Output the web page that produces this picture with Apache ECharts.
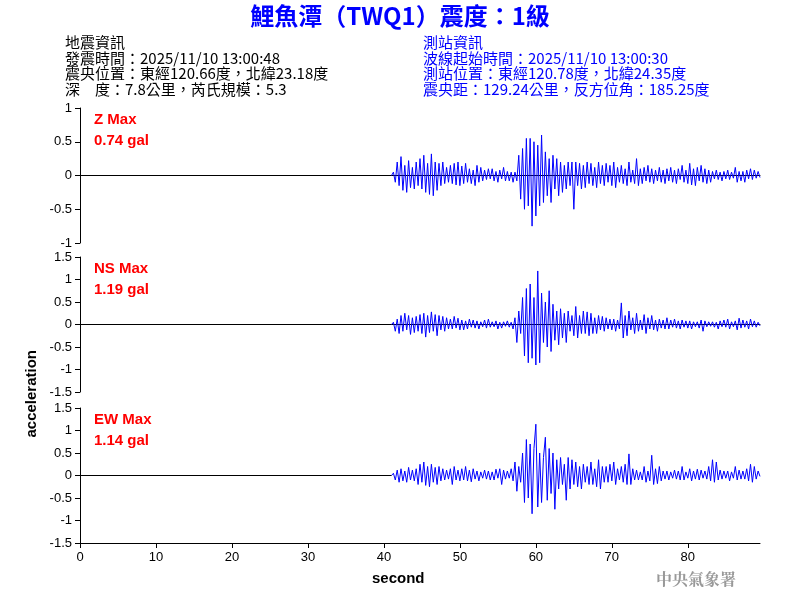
<!DOCTYPE html>
<html>
<head>
<meta charset="utf-8">
<script src="https://cdn.jsdelivr.net/npm/echarts@6/dist/echarts.min.js"></script>
<style>body{margin:0;background:#fff}#chart{width:800px;height:600px}</style>
</head>
<body>
<div id="chart"></div>
<script>
// samples every 0.25 s starting at 41.25 s (flat before 41 s)
var startSec = 41.25;
var stepSec = 0.25;

var zVals = [
  0.05,-0.1,0.2,-0.15, 0.28,-0.22,0.15,-0.25, 0.22,-0.18,0.12,-0.2, 0.2,-0.15,0.25,-0.2,
  0.3,-0.25,0.18,-0.28, 0.32,-0.3,0.2,-0.22, 0.18,-0.15,0.2,-0.12, 0.12,-0.1,0.15,-0.12,
  0.18,-0.14,0.2,-0.15, 0.14,-0.12,0.18,-0.1, 0.1,-0.12,0.08,-0.15, 0.15,-0.1,0.12,-0.08,
  0.08,-0.06,0.1,-0.05, 0.1,-0.08,0.06,-0.1, 0.08,-0.05,0.12,-0.08, 0.06,-0.08,0.05,-0.1,
  0.05,-0.08,0.3,-0.35, 0.4,-0.5,0.55,-0.45, 0.55,-0.75,0.5,-0.6, 0.45,-0.45,0.6,-0.4,
  0.35,-0.3,0.25,-0.4, 0.3,-0.2,0.25,-0.3, 0.2,-0.25,0.15,-0.2, 0.2,-0.15,0.2,-0.5,
  0.2,-0.15,0.18,-0.2, 0.15,-0.18,0.2,-0.12, 0.18,-0.15,0.12,-0.18, 0.2,-0.12,0.15,-0.15,
  0.18,-0.1,0.15,-0.15, 0.2,-0.18,0.12,-0.1, 0.15,-0.12,0.1,-0.15, 0.2,-0.1,0.08,-0.12,
  0.25,-0.15,0.1,-0.12, 0.12,-0.08,0.15,-0.1, 0.1,-0.12,0.08,-0.08, 0.12,-0.1,0.08,-0.12,
  0.1,-0.08,0.12,-0.1, 0.08,-0.12,0.1,-0.06, 0.15,-0.1,0.08,-0.12, 0.18,-0.14,0.1,-0.15,
  0.12,-0.08,0.15,-0.1, 0.1,-0.12,0.08,-0.1, 0.06,-0.05,0.08,-0.06, 0.05,-0.08,0.06,-0.05,
  0.08,-0.06,0.05,-0.04, 0.12,-0.1,0.06,-0.08, 0.06,-0.1,0.08,-0.05, 0.1,-0.06,0.08,-0.04,
  0.06,-0.03
];

var nsVals = [
  0.05,-0.15,0.12,-0.2, 0.2,-0.15,0.25,-0.12, 0.2,-0.22,0.15,-0.18, 0.18,-0.15,0.22,-0.2,
  0.25,-0.28,0.2,-0.18, 0.28,-0.15,0.22,-0.25, 0.2,-0.12,0.18,-0.15, 0.15,-0.1,0.12,-0.1,
  0.18,-0.08,0.14,-0.12, 0.1,-0.12,0.08,-0.1, 0.12,-0.06,0.1,-0.08, 0.08,-0.1,0.06,-0.05,
  0.1,-0.08,0.12,-0.06, 0.06,-0.05,0.08,-0.1, 0.05,-0.08,0.06,-0.04, 0.08,-0.06,0.05,-0.1,
  0.15,-0.4,0.3,-0.2, 0.6,-0.7,0.8,-0.85, 0.9,-0.75,0.6,-0.9, 1.19,-0.85,0.7,-0.4,
  0.5,-0.5,0.75,-0.6, 0.45,-0.35,0.3,-0.45, 0.35,-0.3,0.25,-0.4, 0.3,-0.15,0.2,-0.25,
  0.4,-0.3,0.2,-0.2, 0.3,-0.2,0.28,-0.25, 0.25,-0.2,0.15,-0.2, 0.2,-0.12,0.18,-0.15,
  0.15,-0.1,0.12,-0.12, 0.12,-0.15,0.1,-0.1, 0.48,-0.3,0.2,-0.25, 0.3,-0.12,0.15,-0.2,
  0.25,-0.15,0.1,-0.12, 0.22,-0.2,0.15,-0.1, 0.2,-0.12,0.1,-0.15, 0.12,-0.08,0.1,-0.1,
  0.15,-0.1,0.1,-0.06, 0.12,-0.08,0.08,-0.1, 0.1,-0.06,0.08,-0.08, 0.08,-0.1,0.06,-0.05,
  0.06,-0.08,0.1,-0.15, 0.08,-0.05,0.06,-0.04, 0.06,-0.06,0.05,-0.1, 0.08,-0.05,0.1,-0.06,
  0.12,-0.1,0.06,-0.05, 0.08,-0.12,0.14,-0.08, 0.1,-0.06,0.08,-0.1, 0.12,-0.05,0.08,-0.06,
  0.05,-0.03
];

var ewVals = [
  0.05,-0.1,0.12,-0.15, 0.15,-0.12,0.1,-0.15, 0.18,-0.1,0.12,-0.12, 0.15,-0.2,0.25,-0.15,
  0.3,-0.22,0.2,-0.25, 0.25,-0.15,0.18,-0.2, 0.2,-0.12,0.15,-0.1, 0.12,-0.08,0.15,-0.2,
  0.2,-0.1,0.12,-0.12, 0.15,-0.1,0.2,-0.12, 0.12,-0.14,0.15,-0.08, 0.1,-0.12,0.08,-0.06,
  0.12,-0.08,0.1,-0.1, 0.08,-0.1,0.14,-0.06, 0.15,-0.2,0.12,-0.08, 0.1,-0.06,0.15,-0.12,
  0.3,-0.35,0.2,-0.15, 0.5,-0.6,0.8,-0.5, 0.7,-0.85,0.6,1.14, -0.7,0.5,-0.6,0.4,
  0.85,-0.55,0.6,-0.4, 0.5,-0.75,0.35,-0.3, 0.4,-0.2,0.25,-0.55, 0.4,-0.3,0.35,-0.2,
  0.3,-0.25,0.2,-0.3, 0.25,-0.15,0.2,-0.2, 0.3,-0.2,0.15,-0.25, 0.35,-0.3,0.2,-0.15,
  0.2,-0.15,0.25,-0.12, 0.3,-0.2,0.15,-0.1, 0.2,-0.15,0.25,-0.2, 0.48,-0.2,0.15,-0.1,
  0.12,-0.1,0.08,-0.1, 0.2,-0.15,0.1,-0.12, 0.45,-0.2,0.15,-0.18, 0.2,-0.12,0.1,-0.08,
  0.1,-0.1,0.08,-0.06, 0.12,-0.08,0.1,-0.1, 0.2,-0.1,0.08,-0.06, 0.15,-0.12,0.1,-0.08,
  0.14,-0.1,0.12,-0.06, 0.1,-0.08,0.2,-0.12, 0.35,-0.15,0.3,-0.1, 0.12,-0.08,0.1,-0.06,
  0.1,-0.12,0.08,-0.06, 0.2,-0.1,0.12,-0.08, 0.1,-0.08,0.15,-0.12, 0.25,-0.15,0.2,-0.08,
  0.1,-0.02
];

var xTicks = [0, 10, 20, 30, 40, 50, 60, 70, 80];
var maxLabels = [['Z Max', '0.74 gal'], ['NS Max', '1.19 gal'], ['EW Max', '1.14 gal']];
var leftInfo = ['地震資訊', '發震時間：2025/11/10 13:00:48', '震央位置：東經120.66度，北緯23.18度', '深　度：7.8公里，芮氏規模：5.3'];
var rightInfo = ['測站資訊', '波線起始時間：2025/11/10 13:00:30', '測站位置：東經120.78度，北緯24.35度', '震央距：129.24公里，反方位角：185.25度'];

function toPairs(vals) {
  var out = [[41, 0]];
  for (var i = 0; i < vals.length; i++) out.push([startSec + i * stepSec, vals[i]]);
  return out;
}

var chart = echarts.init(document.getElementById('chart'));
var tops = [108, 257, 408];
var ranges = [[-1, 1], [-1.5, 1.5], [-1.5, 1.5]];
var traces = [zVals, nsVals, ewVals];
var grids = [], xAxes = [], yAxes = [], series = [], graphics = [];

for (var k = 0; k < 3; k++) {
  grids.push({left: 80, width: 680, top: tops[k], height: 135});
  var bottom = k === 2;
  xAxes.push({
    type: 'value', gridIndex: k, min: 0, max: 89.5, interval: 10,
    axisLine: {onZero: !bottom, lineStyle: {color: '#000', width: 1}},
    axisTick: {show: bottom, length: 5, lineStyle: {color: '#000'}, customValues: xTicks},
    axisLabel: {show: bottom, color: '#000', fontSize: 13, fontFamily: 'Arial', margin: 8,
      customValues: xTicks},
    splitLine: {show: false}
  });
  yAxes.push({
    type: 'value', gridIndex: k, min: ranges[k][0], max: ranges[k][1], interval: 0.5,
    axisLine: {show: true, lineStyle: {color: '#000'}},
    axisTick: {show: true, length: 5, lineStyle: {color: '#000'}},
    axisLabel: {color: '#000', fontSize: 13, fontFamily: 'Arial', margin: 8},
    splitLine: {show: false}
  });
  var s = {
    type: 'line', xAxisIndex: k, yAxisIndex: k, data: toPairs(traces[k]),
    showSymbol: false, animation: false,
    lineStyle: {color: '#0000ff', width: 1}
  };
  if (bottom) {
    // zero line for the bottom panel, whose x axis sits at the bottom
    s.markLine = {silent: true, symbol: 'none', label: {show: false},
      lineStyle: {color: '#000', type: 'solid', width: 1},
      data: [[{coord: [0, 0]}, {coord: [41, 0]}]]};
  }
  series.push(s);
  graphics.push({type: 'text', left: 94, top: tops[k] + 1,
    style: {text: maxLabels[k][0] + '\n' + maxLabels[k][1], fill: '#ff0000',
      font: 'bold 15px Arial, sans-serif', lineHeight: 21}});
}

var cjk = '"Noto Sans CJK TC", sans-serif';
graphics.push({type: 'text', left: 'center', top: 4,
  style: {text: '鯉魚潭（TWQ1）震度：1級', fill: '#0000ff', font: 'bold 24px ' + cjk}});
graphics.push({type: 'text', left: 65, top: 35,
  style: {text: leftInfo.join('\n'), fill: '#000', font: '15px ' + cjk, lineHeight: 15.5}});
graphics.push({type: 'text', left: 423, top: 35,
  style: {text: rightInfo.join('\n'), fill: '#0000ff', font: '15px ' + cjk, lineHeight: 15.5}});
graphics.push({type: 'text', left: 24, top: 350, rotation: Math.PI / 2,
  style: {text: 'acceleration', fill: '#000', font: 'bold 15px Arial, sans-serif'}});
graphics.push({type: 'text', left: 372, top: 571,
  style: {text: 'second', fill: '#000', font: 'bold 15px Arial, sans-serif'}});
graphics.push({type: 'text', left: 656, top: 571,
  style: {text: '中央氣象署', fill: '#999', font: 'bold 16px "Noto Serif CJK TC", ' + cjk}});

chart.setOption({
  animation: false,
  grid: grids, xAxis: xAxes, yAxis: yAxes, series: series, graphic: graphics
});
</script>
</body>
</html>
